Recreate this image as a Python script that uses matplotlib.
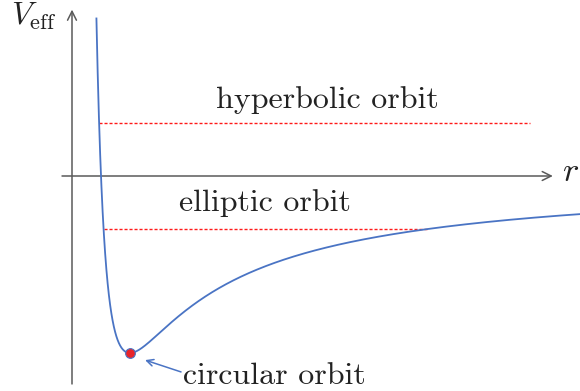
import numpy as np
import matplotlib
matplotlib.use("Agg")
import matplotlib.pyplot as plt

plt.rcParams["mathtext.fontset"] = "cm"

# Effective potential V_eff(r) = -2k/r + k/r^2 (scaled so the minimum sits at r=1, V=-1)
r_min = 1.0
V_min = -1.0
E_hyperbolic = 0.3
E_elliptic = -0.3
r_hyp_end = 7.9

labels = ["hyperbolic orbit", "elliptic orbit", "circular orbit"]


def v_eff(r):
    return -V_min * (-2.0 * r_min / r + r_min**2 / r**2)


def turning_points(E):
    # roots of E r^2 + 2 r - 1 = 0 (in units of r_min)
    a, b, c = E, 2.0 * (-V_min) * r_min, V_min * r_min**2
    if abs(a) < 1e-12:
        return [-c / b]
    d = np.sqrt(b * b - 4 * a * c)
    roots = sorted([(-b + d) / (2 * a), (-b - d) / (2 * a)])
    return [x for x in roots if x > 0]


fig = plt.figure(figsize=(5.8, 3.91), dpi=100)
ax = fig.add_axes([0, 0, 1, 1])
ax.set_xlim(-72 / 58, 508 / 58)
ax.set_ylim(-215 / 177, 176 / 177)
ax.axis("off")

blue = "#4a74c4"
gray = "#5a5a5a"

# coordinate axes with open arrow heads
ax.annotate("", xy=(8.29, 0), xytext=(-0.172, 0),
            arrowprops=dict(arrowstyle="->", color=gray, lw=1.1,
                            mutation_scale=16, shrinkA=0, shrinkB=0))
ax.annotate("", xy=(0, 0.94), xytext=(0, -1.175),
            arrowprops=dict(arrowstyle="->", color=gray, lw=1.1,
                            mutation_scale=16, shrinkA=0, shrinkB=0))

# potential curve
r_start = turning_points(0.89)[0]
r = np.linspace(r_start, 9.0, 800)
ax.plot(r, v_eff(r), color=blue, lw=1.3, zorder=3)

# energy levels
dash = dict(color="#ff1a1a", lw=1.0, ls=(0, (2.2, 1.4)), zorder=2)
r_h = turning_points(E_hyperbolic)[0]
ax.plot([r_h, r_hyp_end], [E_hyperbolic, E_hyperbolic], **dash)
r_e1, r_e2 = turning_points(E_elliptic)
ax.plot([r_e1, r_e2], [E_elliptic, E_elliptic], **dash)

# circular orbit point
ax.plot([r_min], [V_min], "o", color="#e8242a", mec=blue, mew=0.8,
        ms=7, zorder=4)
ax.annotate("", xy=(1.26, -1.04), xytext=(1.88, -1.107),
            arrowprops=dict(arrowstyle="->", color=blue, lw=1.1,
                            mutation_scale=12, shrinkA=0, shrinkB=0))

font = dict(family="cmr10", size=23, color="#222222")
ax.text(4.41, 0.384, labels[0], ha="center", va="baseline", **font)
ax.text(3.32, -0.20, labels[1], ha="center", va="baseline", **font)
ax.text(1.92, -1.175, labels[2], ha="left", va="baseline", **font)

ax.text(-1.05, 0.855, r"$V_{\rm eff}$", fontsize=23, ha="left",
        va="baseline", color="#222222")
ax.text(8.44, -0.03, r"$r$", fontsize=25, ha="left", va="baseline",
        color="#222222")

fig.savefig("out.png", dpi=100)
